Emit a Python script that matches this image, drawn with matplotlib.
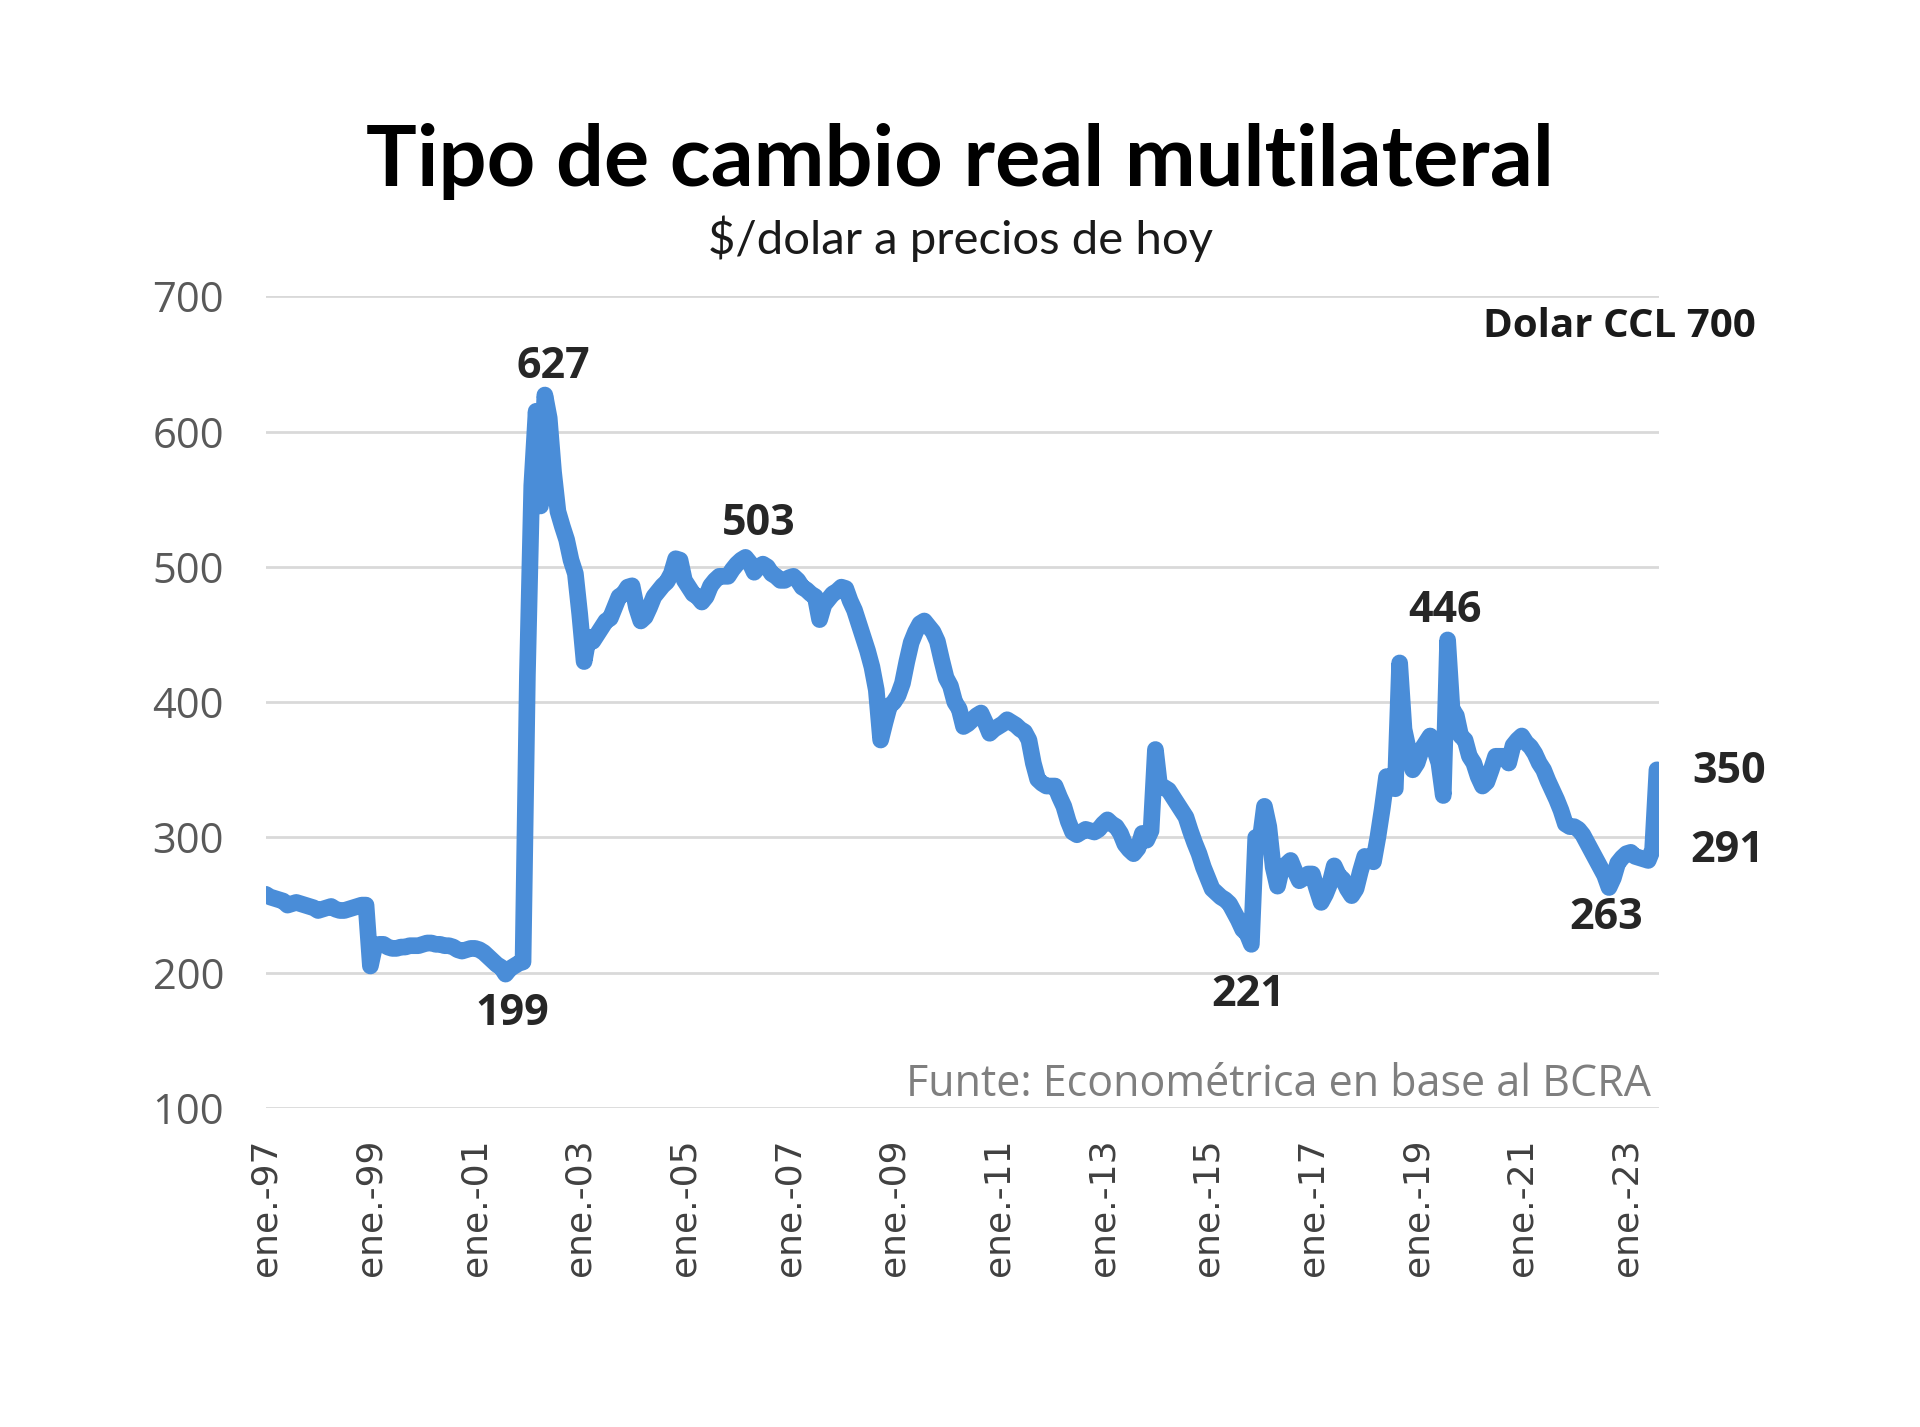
import matplotlib
matplotlib.use("Agg")
import matplotlib.pyplot as plt
import numpy as np

# tipo de cambio real multilateral, $/dolar a precios de hoy (mensual, ene-97 a ago-23)
start_year = 1997
tcrm = [
    258, 256, 255, 254, 253, 250, 251, 252, 251, 250, 249, 248,  # 1997
    246, 247, 248, 249, 247, 246, 246, 247, 248, 249, 250, 250,  # 1998
    205, 220, 221, 221, 219, 218, 218, 219, 219, 220, 220, 220,  # 1999
    221, 222, 222, 221, 221, 220, 220, 219, 217, 216, 217, 218,  # 2000
    218, 217, 215, 212, 209, 206, 204, 199, 203, 205, 207, 208,  # 2001
    420, 560, 615, 545, 627, 610, 570, 541, 530, 520, 505, 495,  # 2002
    465, 430, 448, 445, 450, 455, 460, 462, 470, 478, 480, 485,  # 2003
    486, 470, 460, 463, 470, 478, 482, 486, 489, 495, 506, 505,  # 2004
    490, 485, 480, 478, 474, 478, 486, 490, 493, 493, 493, 498,  # 2005
    502, 505, 507, 503, 496, 500, 502, 500, 495, 493, 490, 490,  # 2006
    492, 493, 490, 485, 483, 480, 478, 461, 472, 476, 480, 482,  # 2007
    485, 484, 475, 468, 458, 448, 438, 426, 409, 372, 385, 397,  # 2008
    400, 405, 414, 430, 444, 452, 458, 460, 456, 452, 445, 431,  # 2009
    418, 412, 400, 395, 382, 384, 387, 390, 392, 385, 377, 380,  # 2010
    382, 384, 387, 385, 383, 380, 378, 372, 355, 343, 340, 338,  # 2011
    338, 338, 330, 323, 312, 304, 302, 304, 306, 305, 304, 306,  # 2012
    310, 313, 310, 308, 303, 295, 291, 288, 292, 303, 298, 305,  # 2013
    365, 337, 337, 335, 330, 325, 320, 315, 305, 296, 288, 278,  # 2014
    270, 262, 259, 256, 254, 251, 245, 239, 232, 229, 221, 300,  # 2015
    298, 323, 308, 278, 264, 278, 280, 283, 275, 268, 270, 273,  # 2016
    273, 262, 252, 258, 266, 279, 272, 269, 262, 257, 262, 275,  # 2017
    286, 284, 282, 300, 321, 345, 338, 336, 429, 380, 365, 350,  # 2018
    355, 365, 370, 375, 365, 355, 331, 446, 395, 390, 375, 372,  # 2019
    360, 355, 345, 338, 341, 350, 360, 360, 360, 355, 368, 372,  # 2020
    375, 370, 367, 362, 355, 350, 342, 335, 328, 320, 310, 308,  # 2021
    308, 306, 302, 296, 290, 284, 278, 272, 263, 270, 281, 285,  # 2022
    288, 289, 286, 285, 284, 283, 291, 350,                      # 2023
]
tick_years = list(range(1997, 2024, 2))
tick_labels = ["ene.-%02d" % (y % 100) for y in tick_years]
y_ticks = [100, 200, 300, 400, 500, 600, 700]

# etiquetas de valores destacados: (texto, x en años, y)
labels = [("627", 2002.49, 648), ("199", 2001.72, 170), ("503", 2006.42, 532),
          ("221", 2015.78, 184), ("446", 2019.53, 468), ("263", 2022.62, 241),
          ("350", 2024.97, 349), ("291", 2024.93, 290)]

t = start_year + np.arange(len(tcrm)) / 12.0

fig = plt.figure(figsize=(19.2, 14.27), dpi=100)
ax = fig.add_axes([0.1384, 0.2235, 0.7256, 0.5689])

ax.plot(t, tcrm, color="#4a8dd8", linewidth=12, solid_joinstyle="round", solid_capstyle="round", zorder=3)

ax.set_xlim(1997, 2023.62)
ax.set_ylim(100, 700)
ax.set_yticks(y_ticks)
ax.set_yticklabels([str(v) for v in y_ticks], fontsize=30, color="#595959", family="Open Sans")
ax.set_xticks(tick_years)
ax.set_xticklabels(tick_labels, rotation=90, fontsize=26, color="#404040", family="DejaVu Sans")
ax.tick_params(axis="both", length=0)
ax.tick_params(axis="x", pad=22)
ax.tick_params(axis="y", pad=30)
ax.grid(axis="y", color="#d9d9d9", linewidth=2)
ax.set_axisbelow(True)
for s in ax.spines.values():
    s.set_visible(False)

for txt, x, y in labels:
    ax.text(x, y, txt, ha="center", va="center", fontsize=31, fontweight="bold",
            color="#262626", family="Open Sans", clip_on=False)

fig.text(0.5, 0.887, "Tipo de cambio real multilateral", ha="center", va="center",
         fontsize=61, fontweight="bold", color="black", family="Lato")
fig.text(0.5, 0.833, "$/dolar a precios de hoy", ha="center", va="center",
         fontsize=34, color="#1a1a1a", family="Lato")
fig.text(0.9146, 0.771, "Dolar CCL 700", ha="right", va="center",
         fontsize=29, fontweight="bold", color="#1a1a1a", family="Open Sans")
fig.text(0.86, 0.2395, "Funte: Econométrica en base al BCRA", ha="right", va="center",
         fontsize=31, color="#7f7f7f", family="Open Sans")

fig.savefig("out.png", dpi=100, facecolor="white")
